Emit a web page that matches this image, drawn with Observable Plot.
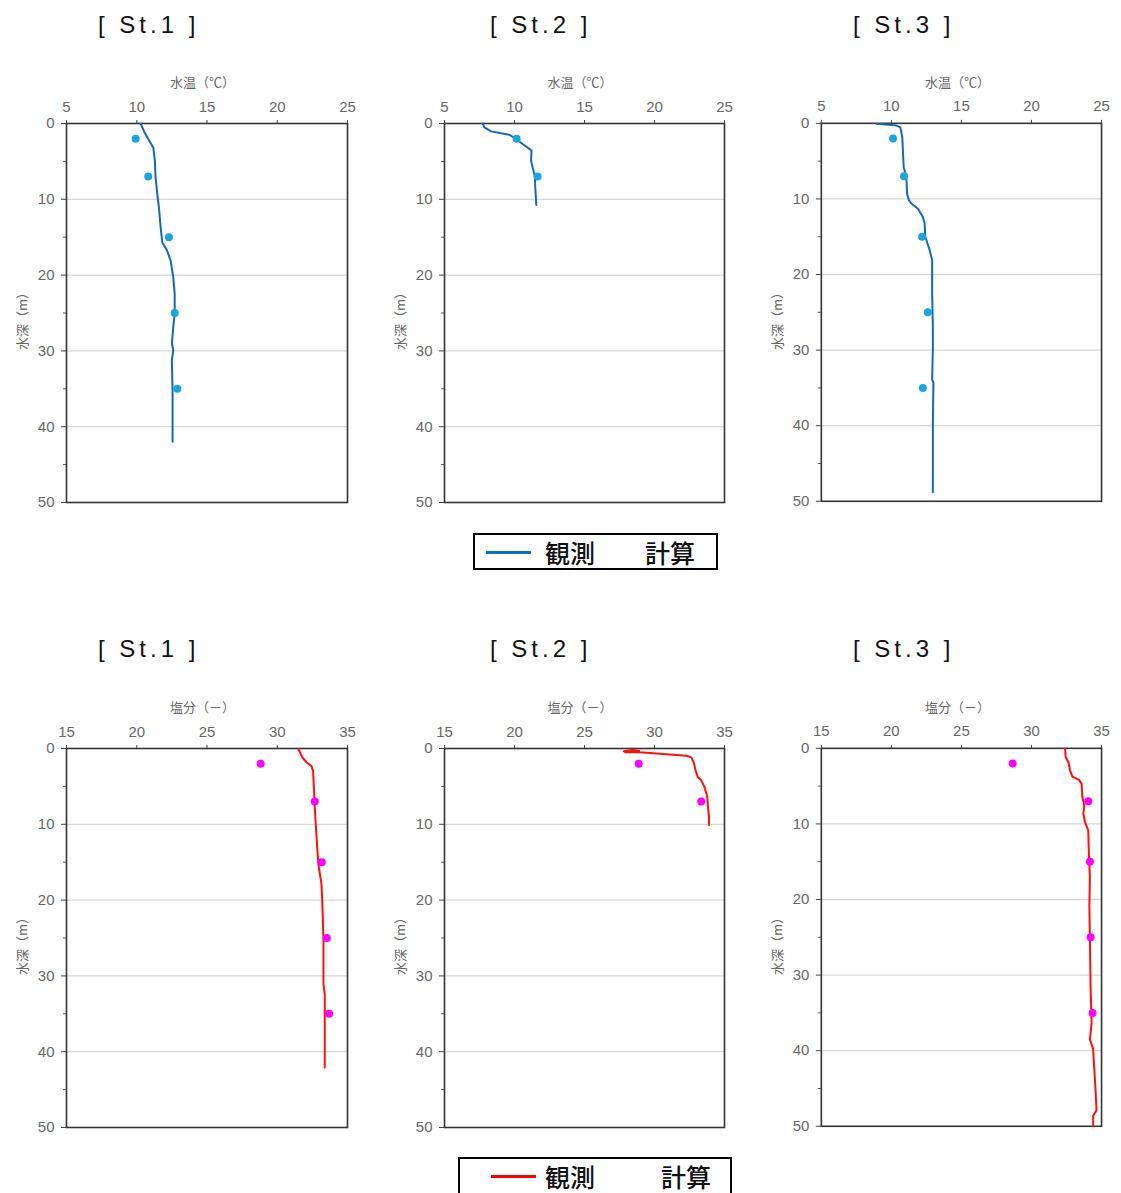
<!DOCTYPE html>
<html><head><meta charset="utf-8">
<script src="https://cdn.jsdelivr.net/npm/d3@7"></script>
<script src="https://cdn.jsdelivr.net/npm/@observablehq/plot@0.6"></script>
<style>
html,body{margin:0;padding:0;background:#fff;overflow:hidden}
#root{position:relative;width:1121px;height:1193px;overflow:hidden;font-family:"Noto Sans CJK JP","Noto Sans",sans-serif}
.title{position:absolute;font-family:"Liberation Sans",Arial,sans-serif;font-size:24px;letter-spacing:4px;line-height:24px;color:#111;white-space:pre}
.xlab{position:absolute;font-size:13px;line-height:16px;color:#666;white-space:nowrap;transform:translate(-50%,-50%)}
.ylab{position:absolute;font-size:13px;line-height:16px;color:#666;white-space:nowrap;transform:translate(-50%,-50%) rotate(-90deg)}
.legend{position:absolute;border:2px solid #000;box-sizing:border-box;background:#fff}
.legline{position:absolute;height:3px}
.legtext{position:absolute;font-size:25px;line-height:30px;font-weight:500;color:#111;white-space:nowrap;transform:translateY(-50%)}
.panel{position:absolute}
</style>
</head><body>
<div id="root"></div>
<script>
// ---------- data ----------
const titles = ["[ St.1 ]", "[ St.2 ]", "[ St.3 ]"];
const tempLabel = "水温（℃）";
const salLabel = "塩分（－）";
const depthLabel = "水深（m）";
const legendLabels = ["観測", "計算"];

const tempTicks = [5, 10, 15, 20, 25];
const salTicks = [15, 20, 25, 30, 35];
const depthTicks = [0, 10, 20, 30, 40, 50];
const depthMinorTicks = [5, 15, 25, 35, 45];
const gridDepths = [10, 20, 30, 40];

const dotDepths = [2, 7, 15, 25, 35];
const dotDepthsSt2 = [2, 7];

// water temperature, St.1
const st1TempLineDepth = [0, 1.2, 2.2, 3.2, 4.9, 7.1, 9.3, 11.1, 13.7, 15.7, 16.8, 18.1, 20.3, 22.5, 25.1, 26.8, 29.0, 29.9, 31.2, 35.6, 42];
const st1TempLineValue = [10.27, 10.56, 10.87, 11.18, 11.29, 11.34, 11.46, 11.58, 11.7, 11.82, 12.17, 12.41, 12.6, 12.7, 12.7, 12.6, 12.5, 12.6, 12.5, 12.55, 12.55];
const st1TempDots = [9.92, 10.82, 12.29, 12.7, 12.89];

// water temperature, St.2
const st2TempLineDepth = [0, 0.5, 1.04, 1.3, 1.48, 2.04, 2.7, 3.35, 3.57, 4.87, 5.74, 7.04, 8.35, 10.74];
const st2TempLineValue = [7.73, 7.85, 8.33, 9.04, 9.63, 10.1, 10.58, 11.06, 11.22, 11.18, 11.29, 11.46, 11.48, 11.56];
const st2TempDots = [10.15, 11.65];

// water temperature, St.3
const st3TempLineDepth = [0.05, 0.15, 0.3, 0.53, 1.84, 4.0, 5.8, 7.1, 9.3, 10.2, 10.6, 11.3, 12.4, 13.2, 15.0, 16.75, 18.1, 22.5, 26.8, 29.9, 33.9, 34.3, 40, 48.8];
const st3TempLineValue = [8.93, 9.64, 10.36, 10.64, 10.78, 10.83, 10.88, 11.07, 11.12, 11.26, 11.42, 11.9, 12.25, 12.37, 12.42, 12.73, 12.91, 12.91, 12.96, 12.96, 12.91, 13.0, 12.96, 12.96];
const st3TempDots = [10.12, 10.9, 12.2, 12.6, 12.25];

// salinity, St.1
const st1SalLineDepth = [0.09, 1.19, 1.85, 2.3, 2.95, 5.6, 7.8, 10.0, 13.5, 15.3, 17.9, 21, 25.4, 31.1, 32.4, 42.1];
const st1SalLineValue = [31.51, 31.79, 32.1, 32.43, 32.55, 32.62, 32.67, 32.74, 32.86, 32.93, 33.15, 33.22, 33.29, 33.29, 33.38, 33.38];
const st1SalDots = [28.82, 32.67, 33.17, 33.53, 33.69];

// salinity, St.2
const st2SalLineDepth = [0.35, 0.2, 0.3, 0.45, 0.5, 0.45, 0.57, 0.65, 0.83, 0.96, 1.17, 1.83, 2.91, 3.78, 4.2, 5.1, 6.4, 7.7, 9.0, 10.1];
const st2SalLineValue = [27.8, 28.4, 28.9, 28.3, 27.9, 28.6, 29.44, 30.15, 31.33, 32.28, 32.63, 32.8, 32.94, 33.1, 33.34, 33.58, 33.77, 33.82, 33.89, 33.89];
const st2SalDots = [28.87, 33.34];

// salinity, St.3
const st3SalLineDepth = [0.09, 1.19, 1.84, 2.94, 3.73, 4.17, 4.7, 6.45, 7.55, 8.65, 9.75, 10.84, 14.35, 17, 20.9, 25.3, 31.9, 36.3, 38.5, 39.8, 42.4, 45.1, 47.9, 48.6, 49.9];
const st3SalLineValue = [32.4, 32.44, 32.64, 32.75, 32.92, 33.39, 33.58, 33.63, 33.77, 33.7, 33.82, 34.05, 34.1, 34.17, 34.13, 34.17, 34.22, 34.29, 34.17, 34.4, 34.48, 34.57, 34.64, 34.4, 34.4];
const st3SalDots = [28.66, 34.05, 34.17, 34.22, 34.36];

// ---------- layout ----------
const root = document.getElementById("root");
const zip = (ds, vs) => ds.map((d, i) => ({d, v: vs[i]}));

const tickFont = '"Liberation Sans Narrow","Liberation Sans",sans-serif';

function addDiv(cls, text, style) {
  const el = document.createElement("div");
  el.className = cls;
  if (text != null) el.textContent = text;
  Object.assign(el.style, style);
  root.appendChild(el);
  return el;
}

function panel(p) {
  const mL = 66, mT = 63, mR = 20, mB = 18;
  const svg = Plot.plot({
    width: p.frameW + mL + mR,
    height: p.frameH + mT + mB,
    marginLeft: mL, marginTop: mT, marginRight: mR, marginBottom: mB,
    x: {domain: p.domain},
    y: {domain: [0, 50], reverse: true},
    style: {background: "transparent", fontFamily: tickFont, overflow: "visible"},
    marks: [
      Plot.gridY(gridDepths, {stroke: "#d6d6d6", strokeOpacity: 1, strokeWidth: 1.3}),
      Plot.axisX(p.ticks, {anchor: "top", label: null, tickSize: 4, tickPadding: 8, fontSize: 15, fill: "#666", stroke: "#444"}),
      Plot.axisY(depthTicks, {anchor: "left", label: null, tickSize: 5, tickPadding: 7, fontSize: 15, fill: "#666", stroke: "#444"}),
      Plot.axisY(depthMinorTicks, {anchor: "left", label: null, tickSize: 3, text: null, stroke: "#555"}),
      Plot.frame({stroke: "#333", strokeWidth: 1.6}),
      Plot.line(zip(p.lineD, p.lineV), {x: "v", y: "d", stroke: p.lineColor, strokeWidth: 2}),
      Plot.dot(zip(p.dotD, p.dotV), {x: "v", y: "d", r: 4, fill: p.dotColor})
    ]
  });
  const wrap = document.createElement("div");
  wrap.className = "panel";
  wrap.style.left = (p.frameLeft - mL) + "px";
  wrap.style.top = (p.frameTop - mT) + "px";
  wrap.appendChild(svg);
  root.appendChild(wrap);
  addDiv("xlab", p.xLabel, {left: (p.frameLeft + p.frameW / 2 - 4) + "px", top: (p.frameTop - 41) + "px"});
  addDiv("ylab", depthLabel, {left: (p.frameLeft - 44) + "px", top: (p.frameTop + p.frameH / 2 + 5) + "px"});
}

const tempBlue = "#1a66b3", tempDot = "#19a6e0";
const salRed = "#ff1010", salDot = "#ff00ff";

const cols = [{left: 66, w: 281}, {left: 444, w: 280}, {left: 821, w: 281}];
const rows = [{top: 123, h: 379}, {top: 748, h: 379}];

const tempPanels = [
  [st1TempLineDepth, st1TempLineValue, dotDepths, st1TempDots],
  [st2TempLineDepth, st2TempLineValue, dotDepthsSt2, st2TempDots],
  [st3TempLineDepth, st3TempLineValue, dotDepths, st3TempDots]
];
const salPanels = [
  [st1SalLineDepth, st1SalLineValue, dotDepths, st1SalDots],
  [st2SalLineDepth, st2SalLineValue, dotDepthsSt2, st2SalDots],
  [st3SalLineDepth, st3SalLineValue, dotDepths, st3SalDots]
];

const titleLefts = [98, 490, 853];
[0, 1].forEach(r => {
  titles.forEach((t, i) => addDiv("title", t, {left: titleLefts[i] + "px", top: (r === 0 ? 13 : 637) + "px"}));
});

tempPanels.forEach((s, i) => panel({
  lineD: s[0], lineV: s[1], dotD: s[2], dotV: s[3],
  domain: [5, 25], ticks: tempTicks, lineColor: tempBlue, dotColor: tempDot,
  frameLeft: cols[i].left, frameW: cols[i].w, frameTop: rows[0].top, frameH: rows[0].h, xLabel: tempLabel
}));
salPanels.forEach((s, i) => panel({
  lineD: s[0], lineV: s[1], dotD: s[2], dotV: s[3],
  domain: [15, 35], ticks: salTicks, lineColor: salRed, dotColor: salDot,
  frameLeft: cols[i].left, frameW: cols[i].w, frameTop: rows[1].top, frameH: rows[1].h, xLabel: salLabel
}));

// legends
function legend(box, lineX, textXs, color) {
  addDiv("legend", null, {left: box.x + "px", top: box.y + "px", width: box.w + "px", height: box.h + "px"});
  const cy = box.y + 19;
  addDiv("legline", null, {left: lineX[0] + "px", top: (cy - 1.5) + "px", width: (lineX[1] - lineX[0]) + "px", background: color});
  legendLabels.forEach((t, i) => addDiv("legtext", t, {left: textXs[i] + "px", top: cy + "px"}));
}
legend({x: 473, y: 533, w: 245, h: 37}, [486, 531], [545, 645], "#0a6cc4");
legend({x: 458, y: 1157, w: 274, h: 42}, [491, 536], [545, 661], "#ff0000");
</script>
</body></html>
